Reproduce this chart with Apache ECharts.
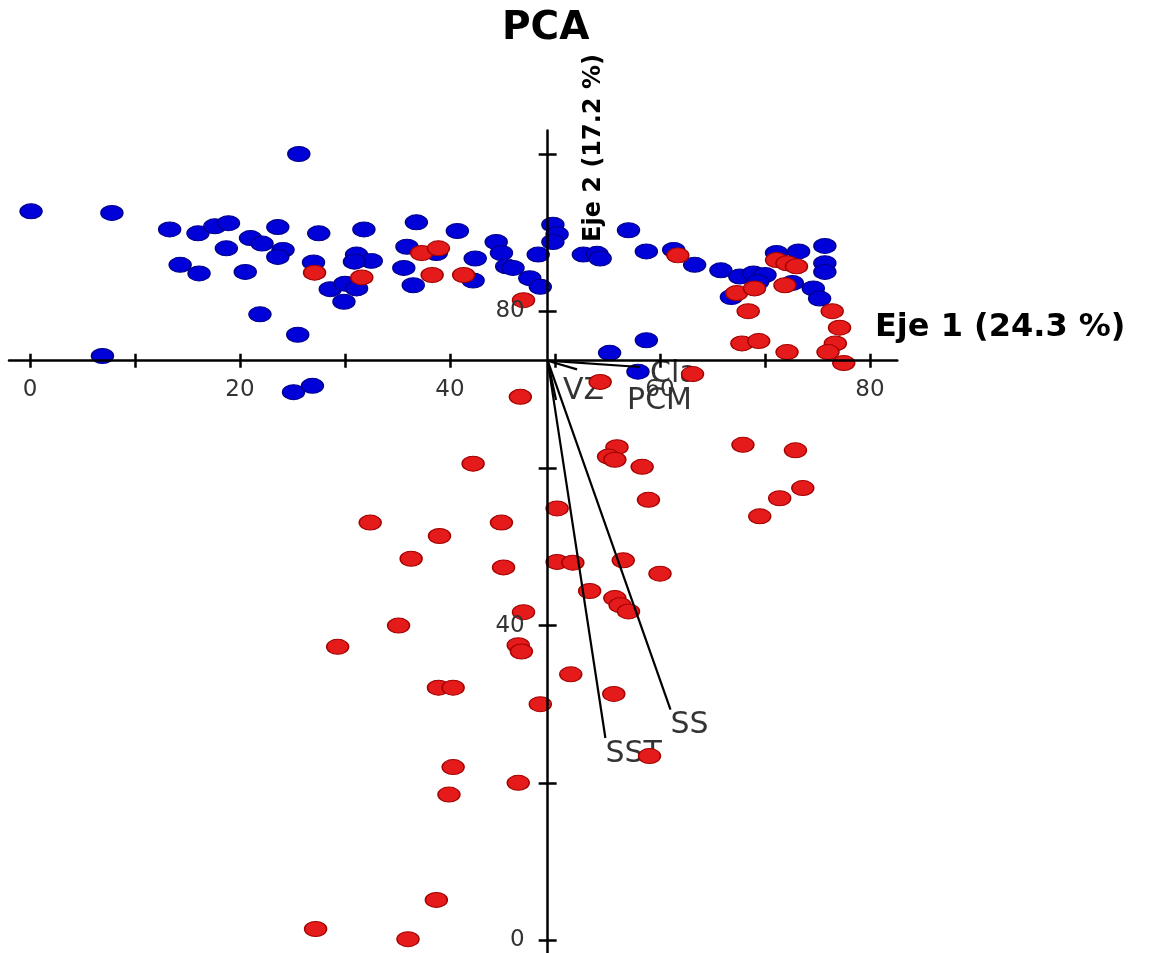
<!DOCTYPE html>
<html><head><meta charset="utf-8">
<script src="https://cdn.jsdelivr.net/npm/echarts@6/dist/echarts.min.js"></script>
<style>html,body{margin:0;padding:0;background:#fff}#c{width:1149px;height:953px}</style>
</head><body><div id="c"></div>
<script>
// ---- data ----
const bluePoints = [[25.6,100.0],[0.1,92.7],[7.8,92.5],[13.3,90.4],[16.0,89.9],[17.6,90.8],[18.9,91.2],[18.7,88.0],[21.0,89.3],[22.1,88.6],[23.6,90.7],[24.1,87.8],[23.6,86.9],[14.3,85.9],[16.1,84.8],[20.5,85.0],[21.9,79.6],[25.5,77.0],[6.9,74.3],[25.1,69.7],[26.9,70.5],[27.5,89.9],[27.0,86.2],[31.8,90.4],[31.1,87.2],[32.5,86.4],[30.9,86.3],[28.6,82.8],[30.0,83.5],[31.1,82.9],[29.9,81.2],[36.8,91.3],[40.7,90.2],[35.9,88.2],[35.6,85.5],[36.5,83.3],[38.7,87.4],[42.4,86.7],[42.2,83.9],[44.4,88.8],[44.9,87.4],[45.4,85.7],[46.0,85.5],[47.6,84.2],[48.6,83.1],[48.4,87.2],[49.8,91.0],[50.2,89.8],[49.8,88.8],[52.7,87.2],[54.0,87.3],[54.3,86.7],[57.0,90.3],[58.7,87.6],[61.3,87.8],[63.3,85.9],[65.8,85.2],[67.6,84.4],[68.9,84.8],[70.0,84.6],[69.3,83.7],[71.1,87.4],[73.2,87.6],[75.7,88.3],[75.7,86.1],[75.7,85.0],[74.6,82.9],[75.2,81.6],[66.8,81.8],[72.6,83.6],[58.7,76.3],[55.2,74.7],[57.9,72.3]];
const redPoints = [[27.1,84.9],[31.6,84.3],[37.3,87.4],[38.9,88.0],[38.3,84.6],[41.3,84.6],[47.0,81.4],[61.7,87.1],[71.1,86.5],[72.1,86.1],[73.0,85.7],[71.9,83.3],[67.3,82.3],[69.0,82.9],[68.4,80.0],[67.8,75.9],[69.4,76.2],[72.1,74.8],[76.4,80.0],[77.1,77.9],[76.7,75.9],[76.0,74.8],[77.5,73.4],[63.1,72.0],[46.7,69.1],[54.3,71.0],[42.2,60.6],[55.9,62.7],[55.1,61.5],[55.7,61.1],[58.3,60.2],[58.9,56.0],[50.2,54.9],[44.9,53.1],[39.0,51.4],[32.4,53.1],[67.9,63.0],[72.9,62.3],[73.6,57.5],[71.4,56.2],[69.5,53.9],[36.3,48.5],[45.1,47.4],[50.2,48.1],[51.7,48.0],[56.5,48.3],[60.0,46.6],[53.3,44.4],[55.7,43.5],[56.2,42.6],[57.0,41.8],[47.0,41.7],[35.1,40.0],[29.3,37.3],[46.5,37.5],[46.8,36.7],[51.5,33.8],[38.9,32.1],[40.3,32.1],[55.6,31.3],[48.6,30.0],[59.0,23.4],[40.3,22.0],[46.5,20.0],[39.9,18.5],[38.7,5.1],[27.2,1.4],[36.0,0.1]];
const vectorOrigin = [49.3, 73.7];
const vectorNames = ['Cla', 'PCM', 'VZ', 'SS', 'SST'];
const vectorEnds = [[58.1,72.9],[50.1,68.7],[52.1,72.6],[61.0,29.3],[54.8,25.7]];
const xTickValues = [0,10,20,30,40,50,60,70,80];
const xLabelValues = [0,20,40,60,80];
const yTickValues = [0,20,40,60,80,100];
const yLabelValues = [0,40,80];
const titleText = 'PCA';
const xName = 'Eje 1 (24.3 %)';
const yName = 'Eje 2 (17.2 %)';

// ---- layout / style ----
const X_MIN = -2, X_MAX = 82.6, Y_MIN = -2, Y_MAX = 103;
const G = {left: 9, top: 130.4, width: 888.3, height: 825.3};
const yPx = v => G.top + (Y_MAX - v) / (Y_MAX - Y_MIN) * G.height;
const xPx = v => G.left + (v - X_MIN) / (X_MAX - X_MIN) * G.width;
const xOffset = yPx(vectorOrigin[1]) - (G.top + G.height);
const yOffset = -(xPx(vectorOrigin[0]) - G.left);
const labelOffsets = {Cla:[10,7], PCM:[71,1], VZ:[-14,22], SS:[0,16], SST:[0,16]};
const FONT = 'DejaVu Sans';

const axisCommon = {type:'value', splitLine:{show:false}, z:5};
const xMain = Object.assign({}, axisCommon, {
  min:X_MIN, max:X_MAX, position:'bottom', offset:xOffset,
  axisLine:{show:true, onZero:false, lineStyle:{color:'#000', width:2.5}},
  axisTick:{show:true, length:7, lineStyle:{color:'#000', width:2.5}, customValues:xTickValues},
  axisLabel:{show:true, margin:18, color:'#333', fontFamily:FONT, fontSize:23, customValues:xLabelValues}
});
const xInner = Object.assign({}, axisCommon, {
  min:X_MIN, max:X_MAX, position:'bottom', offset:xOffset,
  axisLine:{show:false, onZero:false},
  axisTick:{show:true, inside:true, length:7, lineStyle:{color:'#000', width:2.5}, customValues:xTickValues},
  axisLabel:{show:false}
});
const yMain = Object.assign({}, axisCommon, {
  min:Y_MIN, max:Y_MAX, position:'left', offset:yOffset,
  axisLine:{show:true, onZero:false, lineStyle:{color:'#000', width:2.5}},
  axisTick:{show:true, length:9, lineStyle:{color:'#000', width:2.5}, customValues:yTickValues},
  axisLabel:{show:true, margin:23, color:'#333', fontFamily:FONT, fontSize:23, customValues:yLabelValues}
});
const yInner = Object.assign({}, axisCommon, {
  min:Y_MIN, max:Y_MAX, position:'left', offset:yOffset,
  axisLine:{show:false, onZero:false},
  axisTick:{show:true, inside:true, length:9, lineStyle:{color:'#000', width:2.5}, customValues:yTickValues},
  axisLabel:{show:false}
});

const chart = echarts.init(document.getElementById('c'), null, {renderer:'canvas'});
chart.setOption({
  backgroundColor:'#fff',
  animation:false,
  title:{text:titleText, left:502, top:9, padding:0,
    textStyle:{fontFamily:FONT, fontWeight:'bold', fontSize:39, color:'#000'}},
  grid:{left:G.left, top:G.top, width:G.width, height:G.height, containLabel:false, outerBoundsMode:'none'},
  xAxis:[xMain, xInner],
  yAxis:[yMain, yInner],
  graphic:[
    {type:'text', x:875, y:328, z:10, style:{text:xName, font:'bold 32px "DejaVu Sans"', fill:'#000', align:'left', verticalAlign:'middle'}},
    {type:'text', x:594, y:148, rotation:Math.PI/2, z:10, style:{text:yName, font:'bold 24px "DejaVu Sans"', fill:'#000', align:'center', verticalAlign:'middle'}}
  ],
  series:[
    {type:'scatter', name:'labels', z:1, silent:true, symbol:'circle', symbolSize:0.1,
      itemStyle:{color:'transparent'},
      data:vectorNames.map((n,i)=>({name:n, value:vectorEnds[i],
        label:{offset:labelOffsets[n]}})),
      label:{show:true, position:'inside', align:'left', verticalAlign:'middle', color:'#000',
        fontFamily:FONT, fontSize:30, formatter:p=>p.name}},
    {type:'scatter', name:'blue', z:2, symbol:'circle', symbolSize:[22,15],
      itemStyle:{color:'#0000D8', borderColor:'#00008A', borderWidth:1.2, opacity:1},
      data:bluePoints},
    {type:'scatter', name:'red', z:3, symbol:'circle', symbolSize:[22,15],
      itemStyle:{color:'#E51B1B', borderColor:'#A30000', borderWidth:1.2, opacity:1},
      data:redPoints},
    {type:'lines', name:'vectors', coordinateSystem:'cartesian2d', z:4, silent:true,
      lineStyle:{color:'#000', width:2.2, opacity:1, curveness:0},
      data:vectorEnds.map(e=>({coords:[vectorOrigin, e]}))}
  ]
});
</script></body></html>
